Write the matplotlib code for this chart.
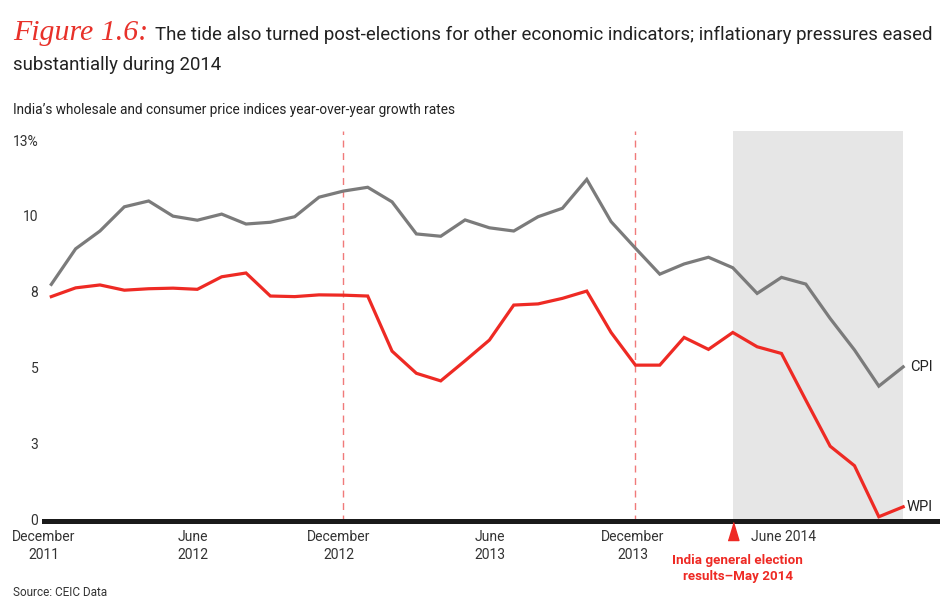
import numpy as np
import matplotlib
matplotlib.use("Agg")
import matplotlib.pyplot as plt

plt.rcParams['font.family'] = ['Roboto', 'DejaVu Sans']

# monthly points, Dec 2011 .. Nov 2014
cpi = [8.05, 9.27, 9.88, 10.71, 10.91, 10.39, 10.25, 10.46, 10.12, 10.18, 10.37, 11.04,
       11.25, 11.38, 10.88, 9.78, 9.70, 10.26, 9.99, 9.88, 10.37, 10.66, 11.65, 10.20,
       9.29, 8.40, 8.75, 8.98, 8.62, 7.74, 8.29, 8.06, 6.88, 5.80, 4.56, 5.22]
wpi = [7.63, 7.93, 8.03, 7.85, 7.90, 7.92, 7.88, 8.31, 8.44, 7.65, 7.63, 7.69,
       7.68, 7.65, 5.76, 5.00, 4.74, 5.43, 6.14, 7.34, 7.38, 7.57, 7.82, 6.40,
       5.28, 5.28, 6.23, 5.82, 6.40, 5.91, 5.68, 4.08, 2.50, 1.83, 0.08, 0.42]

ytick_vals = [0, 2.6, 5.2, 7.8, 10.4, 13]
ytick_labels = ['0', '3', '5', '8', '10', '13%']
xtick_pos = [-0.3, 5.8, 11.8, 18, 23.9]
xtick_labels = ['December\n2011', 'June\n2012', 'December\n2012', 'June\n2013', 'December\n2013']
dec_marks = [12, 24]
election_idx = 28

W, H = 950, 607
fig = plt.figure(figsize=(W / 100, H / 100), dpi=100)


def fx(x):
    return x / W


def fy(y):
    return 1 - y / H


ax = fig.add_axes([fx(44), fy(522), 893 / W, 391 / H])
x = np.arange(len(cpi))

ax.set_xlim(-0.205, 36.39)
ax.set_ylim(-0.1, 13.31)

# post-election shading
ax.fill_between([election_idx, len(cpi) - 1], 0, 13.31, color='#e6e6e6', lw=0, zorder=0)

for d in dec_marks:
    ax.axvline(d, color='#f07a7a', lw=1.0, dashes=(5, 4), zorder=1)

ax.plot(x, cpi, color='#7b7b7b', lw=2.3, solid_joinstyle='miter', zorder=3)
ax.plot(x, wpi, color='#ee2a24', lw=2.3, solid_joinstyle='miter', zorder=3)

ax.axhline(-0.05, color='#1a1a1a', lw=3.6, clip_on=False, zorder=4)

ax.text(35.3, cpi[-1], 'CPI', va='center', ha='left', fontsize=10.5, color='#222222')
ax.text(35.15, wpi[-1], 'WPI', va='center', ha='left', fontsize=10.5, color='#222222')

ax.set_yticks(ytick_vals, ytick_labels)
ax.set_xticks(xtick_pos, xtick_labels)
ax.tick_params(axis='y', length=0, pad=4, labelsize=10, labelcolor='#333333')
ax.tick_params(axis='x', length=0, pad=6, labelsize=10, labelcolor='#333333')
for lab in ax.get_xticklabels():
    lab.set_linespacing(1.35)
for s in ax.spines.values():
    s.set_visible(False)

# election marker
tri = [(-0.6, -1), (0.6, -1), (0, 1)]
ax.plot([election_idx], [-0.42], marker=tri, ms=13, color='#ee2a24', clip_on=False, zorder=5)
ax.text(election_idx + 0.75, -0.6, 'June 2014', ha='left', va='center', fontsize=10, color='#333333')
ax.text(election_idx + 0.2, -1.7, 'India general election\nresults\u2013May 2014', ha='center', va='center',
        fontsize=9.6, fontweight='bold', color='#ee2a24', linespacing=1.3)

# titles
fig.text(fx(13), fy(40), 'Figure 1.6:', fontsize=21.5, color='#e8312a', style='italic',
         family=['Liberation Serif', 'DejaVu Serif'], va='baseline')
fig.text(fx(155), fy(40), 'The tide also turned post-elections for other economic indicators; inflationary pressures eased',
         fontsize=13.4, color='#222222', va='baseline')
fig.text(fx(13), fy(70), 'substantially during 2014', fontsize=13.4, color='#222222', va='baseline')
fig.text(fx(13), fy(110), 'India\u2019s wholesale and consumer price indices year-over-year growth rates',
         fontsize=9.8, color='#222222', va='center')
fig.text(fx(13), fy(593), 'Source: CEIC Data', fontsize=8.5, color='#333333', va='center')

fig.savefig('out.png', dpi=100)
